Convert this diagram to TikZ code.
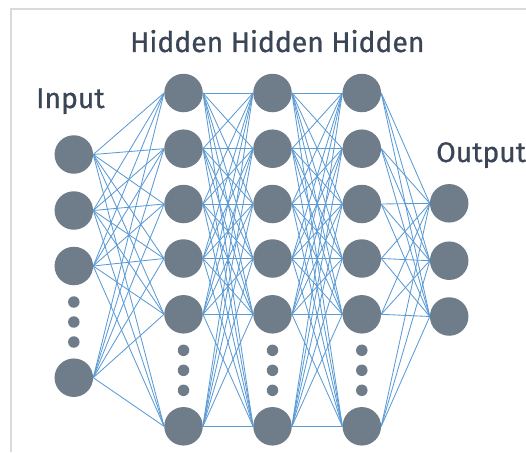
\documentclass[tikz,border=0pt]{standalone}
\usepackage{fontspec}
\setmainfont{Fira Sans}[FakeBold=0.8]
\definecolor{nodegray}{HTML}{6F7C89}
\definecolor{linkblue}{HTML}{5B9BD5}
\definecolor{textcol}{HTML}{3A4556}
\definecolor{framegray}{HTML}{DADADA}
\begin{document}
\begin{tikzpicture}[x=1pt,y=-1pt,
  neuron/.style={circle,fill=nodegray,minimum size=38.5pt,inner sep=0pt},
  gapdot/.style={circle,fill=nodegray,minimum size=11.5pt,inner sep=0pt},
  conn/.style={draw=linkblue,line width=0.85pt},
  lbl/.style={text=textcol,font=\fontsize{28.3}{30}\selectfont,anchor=base west,inner sep=0pt}]
\useasboundingbox (0,0) rectangle (526,452);
\draw[framegray,line width=2pt] (11,452) -- (11,9.5) -- (526,9.5);
% input layer
\foreach \i/\y in {1/154.5,2/210.5,3/266,4/377.7}
  \node[neuron] (in\i) at (73.8,\y) {};
\foreach \j/\y in {1/302,2/322,3/342}
  \node[gapdot] (ind\j) at (73.8,\y) {};
% hidden layers
\foreach \l/\x in {1/183.5,2/272.5,3/361.8}{
  \foreach \i/\y in {1/93,2/148.7,3/204,4/258.5,5/314.3,6/426.3}
    \node[neuron] (h\l-\i) at (\x,\y) {};
  \foreach \j/\y in {1/350.3,2/370.3,3/390.3}
    \node[gapdot] (hd\l-\j) at (\x,\y) {};
}
% output layer
\foreach \i/\y in {1/203.3,2/260.7,3/316.5}
  \node[neuron] (out\i) at (449.2,\y) {};
% connections
\foreach \a in {1,...,4}
  \foreach \b in {1,...,6}
    \draw[conn] (in\a.east) -- (h1-\b.west);
\foreach \a in {1,...,6}
  \foreach \b in {1,...,6}{
    \draw[conn] (h1-\a.east) -- (h2-\b.west);
    \draw[conn] (h2-\a.east) -- (h3-\b.west);
  }
\foreach \a in {1,...,6}
  \foreach \b in {1,...,3}
    \draw[conn] (h3-\a.east) -- (out\b.west);
% labels
\node[lbl] (tin) at (36,108) {Input};
\node[lbl] (thid) at (130,52) {Hidden Hidden Hidden};
\node[lbl] (tout) at (436,162) {Output};
\end{tikzpicture}
\end{document}
